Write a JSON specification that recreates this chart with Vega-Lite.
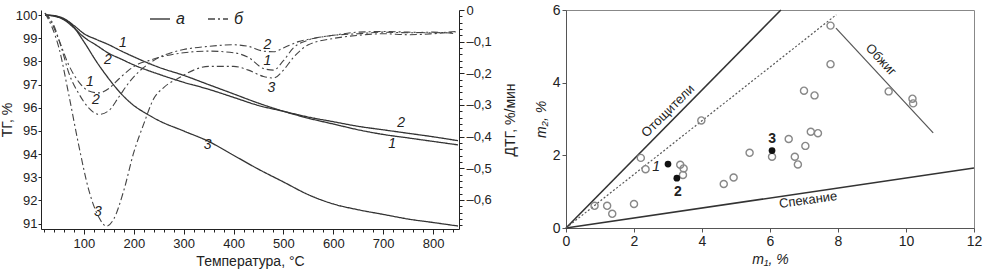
{
  "$schema": "https://vega.github.io/schema/vega-lite/v6.json",
  "padding": {"left": 0, "top": 2, "right": 5, "bottom": 5},
  "config": {
    "font": "Liberation Sans",
    "view": {"stroke": "#888"},
    "axis": {"labelFontSize": 13, "titleFontSize": 14, "titleFontWeight": "normal", "labelColor": "#222", "titleColor": "#222", "domainColor": "#222", "tickColor": "#222", "grid": false, "labelFont": "Liberation Sans", "titleFont": "Liberation Sans", "labelOverlap": false, "labelFlush": false},
    "text": {"font": "Liberation Sans"}
  },
  "datasets": {
    "tg": [
      {"c":"1","k":"а","T":22,"v":100},{"c":"1","k":"а","T":40,"v":99.98},{"c":"1","k":"а","T":60,"v":99.85},{"c":"1","k":"а","T":80,"v":99.55},{"c":"1","k":"а","T":100,"v":99.2},{"c":"1","k":"а","T":125,"v":98.95},{"c":"1","k":"а","T":150,"v":98.72},{"c":"1","k":"а","T":175,"v":98.45},{"c":"1","k":"а","T":200,"v":98.2},{"c":"1","k":"а","T":250,"v":97.75},{"c":"1","k":"а","T":300,"v":97.4},{"c":"1","k":"а","T":350,"v":97.0},{"c":"1","k":"а","T":400,"v":96.6},{"c":"1","k":"а","T":450,"v":96.2},{"c":"1","k":"а","T":500,"v":95.85},{"c":"1","k":"а","T":550,"v":95.55},{"c":"1","k":"а","T":600,"v":95.3},{"c":"1","k":"а","T":650,"v":95.05},{"c":"1","k":"а","T":700,"v":94.85},{"c":"1","k":"а","T":750,"v":94.7},{"c":"1","k":"а","T":800,"v":94.55},{"c":"1","k":"а","T":850,"v":94.4},
      {"c":"2","k":"а","T":22,"v":100},{"c":"2","k":"а","T":40,"v":99.97},{"c":"2","k":"а","T":60,"v":99.8},{"c":"2","k":"а","T":80,"v":99.45},{"c":"2","k":"а","T":100,"v":99.05},{"c":"2","k":"а","T":125,"v":98.7},{"c":"2","k":"а","T":150,"v":98.35},{"c":"2","k":"а","T":175,"v":98.1},{"c":"2","k":"а","T":200,"v":97.85},{"c":"2","k":"а","T":250,"v":97.45},{"c":"2","k":"а","T":300,"v":97.1},{"c":"2","k":"а","T":350,"v":96.8},{"c":"2","k":"а","T":400,"v":96.45},{"c":"2","k":"а","T":450,"v":96.1},{"c":"2","k":"а","T":500,"v":95.85},{"c":"2","k":"а","T":550,"v":95.6},{"c":"2","k":"а","T":600,"v":95.4},{"c":"2","k":"а","T":650,"v":95.2},{"c":"2","k":"а","T":700,"v":95.05},{"c":"2","k":"а","T":750,"v":94.9},{"c":"2","k":"а","T":800,"v":94.75},{"c":"2","k":"а","T":850,"v":94.58},
      {"c":"3","k":"а","T":22,"v":100},{"c":"3","k":"а","T":50,"v":99.9},{"c":"3","k":"а","T":75,"v":99.6},{"c":"3","k":"а","T":100,"v":98.85},{"c":"3","k":"а","T":125,"v":98.0},{"c":"3","k":"а","T":150,"v":97.25},{"c":"3","k":"а","T":175,"v":96.6},{"c":"3","k":"а","T":200,"v":96.1},{"c":"3","k":"а","T":225,"v":95.75},{"c":"3","k":"а","T":250,"v":95.45},{"c":"3","k":"а","T":300,"v":95.0},{"c":"3","k":"а","T":350,"v":94.55},{"c":"3","k":"а","T":400,"v":93.95},{"c":"3","k":"а","T":450,"v":93.35},{"c":"3","k":"а","T":500,"v":92.8},{"c":"3","k":"а","T":550,"v":92.25},{"c":"3","k":"а","T":600,"v":91.85},{"c":"3","k":"а","T":650,"v":91.6},{"c":"3","k":"а","T":700,"v":91.4},{"c":"3","k":"а","T":750,"v":91.2},{"c":"3","k":"а","T":800,"v":91.05},{"c":"3","k":"а","T":850,"v":90.9}
    ],
    "dtg": [
      {"c":"1","k":"б","T":22,"v":-0.01},{"c":"1","k":"б","T":35,"v":-0.04},{"c":"1","k":"б","T":50,"v":-0.095},{"c":"1","k":"б","T":70,"v":-0.175},{"c":"1","k":"б","T":90,"v":-0.228},{"c":"1","k":"б","T":110,"v":-0.256},{"c":"1","k":"б","T":130,"v":-0.262},{"c":"1","k":"б","T":150,"v":-0.248},{"c":"1","k":"б","T":170,"v":-0.218},{"c":"1","k":"б","T":190,"v":-0.19},{"c":"1","k":"б","T":210,"v":-0.17},{"c":"1","k":"б","T":230,"v":-0.16},{"c":"1","k":"б","T":250,"v":-0.15},{"c":"1","k":"б","T":300,"v":-0.135},{"c":"1","k":"б","T":350,"v":-0.13},{"c":"1","k":"б","T":400,"v":-0.135},{"c":"1","k":"б","T":430,"v":-0.15},{"c":"1","k":"б","T":460,"v":-0.185},{"c":"1","k":"б","T":480,"v":-0.19},{"c":"1","k":"б","T":500,"v":-0.16},{"c":"1","k":"б","T":520,"v":-0.12},{"c":"1","k":"б","T":550,"v":-0.095},{"c":"1","k":"б","T":600,"v":-0.08},{"c":"1","k":"б","T":650,"v":-0.07},{"c":"1","k":"б","T":700,"v":-0.068},{"c":"1","k":"б","T":750,"v":-0.07},{"c":"1","k":"б","T":800,"v":-0.072},{"c":"1","k":"б","T":845,"v":-0.068},
      {"c":"2","k":"б","T":22,"v":-0.01},{"c":"2","k":"б","T":40,"v":-0.05},{"c":"2","k":"б","T":55,"v":-0.12},{"c":"2","k":"б","T":70,"v":-0.2},{"c":"2","k":"б","T":90,"v":-0.265},{"c":"2","k":"б","T":110,"v":-0.31},{"c":"2","k":"б","T":130,"v":-0.33},{"c":"2","k":"б","T":150,"v":-0.318},{"c":"2","k":"б","T":170,"v":-0.275},{"c":"2","k":"б","T":190,"v":-0.23},{"c":"2","k":"б","T":210,"v":-0.195},{"c":"2","k":"б","T":230,"v":-0.17},{"c":"2","k":"б","T":250,"v":-0.15},{"c":"2","k":"б","T":275,"v":-0.135},{"c":"2","k":"б","T":300,"v":-0.125},{"c":"2","k":"б","T":350,"v":-0.115},{"c":"2","k":"б","T":400,"v":-0.11},{"c":"2","k":"б","T":430,"v":-0.115},{"c":"2","k":"б","T":460,"v":-0.13},{"c":"2","k":"б","T":480,"v":-0.132},{"c":"2","k":"б","T":500,"v":-0.12},{"c":"2","k":"б","T":530,"v":-0.1},{"c":"2","k":"б","T":560,"v":-0.09},{"c":"2","k":"б","T":600,"v":-0.08},{"c":"2","k":"б","T":650,"v":-0.075},{"c":"2","k":"б","T":700,"v":-0.07},{"c":"2","k":"б","T":750,"v":-0.072},{"c":"2","k":"б","T":800,"v":-0.07},{"c":"2","k":"б","T":845,"v":-0.075},
      {"c":"3","k":"б","T":22,"v":-0.01},{"c":"3","k":"б","T":35,"v":-0.05},{"c":"3","k":"б","T":50,"v":-0.12},{"c":"3","k":"б","T":70,"v":-0.27},{"c":"3","k":"б","T":90,"v":-0.43},{"c":"3","k":"б","T":110,"v":-0.57},{"c":"3","k":"б","T":130,"v":-0.655},{"c":"3","k":"б","T":145,"v":-0.683},{"c":"3","k":"б","T":160,"v":-0.66},{"c":"3","k":"б","T":180,"v":-0.57},{"c":"3","k":"б","T":200,"v":-0.45},{"c":"3","k":"б","T":220,"v":-0.36},{"c":"3","k":"б","T":240,"v":-0.28},{"c":"3","k":"б","T":260,"v":-0.245},{"c":"3","k":"б","T":290,"v":-0.215},{"c":"3","k":"б","T":320,"v":-0.19},{"c":"3","k":"б","T":350,"v":-0.178},{"c":"3","k":"б","T":400,"v":-0.178},{"c":"3","k":"б","T":430,"v":-0.19},{"c":"3","k":"б","T":460,"v":-0.21},{"c":"3","k":"б","T":480,"v":-0.215},{"c":"3","k":"б","T":500,"v":-0.19},{"c":"3","k":"б","T":520,"v":-0.15},{"c":"3","k":"б","T":550,"v":-0.11},{"c":"3","k":"б","T":600,"v":-0.09},{"c":"3","k":"б","T":650,"v":-0.08},{"c":"3","k":"б","T":700,"v":-0.075},{"c":"3","k":"б","T":750,"v":-0.078},{"c":"3","k":"б","T":800,"v":-0.075},{"c":"3","k":"б","T":845,"v":-0.07}
    ],
    "tgLab": [
      {"t":"1","T":178,"v":98.79},{"t":"2","T":148,"v":98.06},{"t":"3","T":348,"v":94.4},{"t":"2","T":736,"v":95.34},{"t":"1","T":718,"v":94.44}
    ],
    "dtgLab": [
      {"t":"1","T":112,"v":-0.227},{"t":"2","T":124,"v":-0.284},{"t":"3","T":128,"v":-0.638},{"t":"2","T":468,"v":-0.11},{"t":"1","T":468,"v":-0.16},{"t":"3","T":476,"v":-0.246}
    ],
    "pts": [
      {"x":0.84,"y":0.61},{"x":1.21,"y":0.61},{"x":1.36,"y":0.39},{"x":2.0,"y":0.66},{"x":2.2,"y":1.93},{"x":2.34,"y":1.62},{"x":3.36,"y":1.74},{"x":3.46,"y":1.64},{"x":3.44,"y":1.46},{"x":3.98,"y":2.96},{"x":4.64,"y":1.21},{"x":4.93,"y":1.39},{"x":5.4,"y":2.07},{"x":7.78,"y":5.57},{"x":7.78,"y":4.51},{"x":7.0,"y":3.78},{"x":7.31,"y":3.65},{"x":9.49,"y":3.76},{"x":10.19,"y":3.56},{"x":10.21,"y":3.43},{"x":6.55,"y":2.45},{"x":7.2,"y":2.65},{"x":7.41,"y":2.61},{"x":7.04,"y":2.26},{"x":6.06,"y":1.96},{"x":6.73,"y":1.96},{"x":6.82,"y":1.75}
    ],
    "samples": [
      {"n":"1","x":3.0,"y":1.76},{"n":"2","x":3.26,"y":1.37},{"n":"3","x":6.06,"y":2.13}
    ],
    "sampleLab1": [
      {"n":"1","x":2.65,"y":1.68}
    ],
    "sampleLab23": [
      {"n":"2","x":3.29,"y":0.99},{"n":"3","x":6.06,"y":2.45}
    ],
    "bounds": [
      {"n":"Отощители","x":0,"y":0},{"n":"Отощители","x":6.32,"y":6},
      {"n":"Спекание","x":0,"y":0},{"n":"Спекание","x":12,"y":1.65}
    ],
    "firing": [
      {"n":"Обжиг","x":7.94,"y":5.5},{"n":"Обжиг","x":10.8,"y":2.62}
    ],
    "diag": [
      {"n":"d","x":0,"y":0},{"n":"d","x":7.95,"y":5.87}
    ]
  },
  "hconcat": [
    {
      "width": 418,
      "height": 219,
      "view": {"stroke": null},
      "encoding": {
        "x": {"field": "T", "type": "quantitative", "scale": {"domain": [14, 852], "nice": false, "zero": false},
          "axis": {"title": "Температура, °С", "values": [20,40,60,80,100,120,140,160,180,200,220,240,260,280,300,320,340,360,380,400,420,440,460,480,500,520,540,560,580,600,620,640,660,680,700,720,740,760,780,800,820,840],
            "labelExpr": "datum.value % 100 === 0 ? datum.label : ''", "labelOverlap": false, "labelFlush": false,
            "tickSize": {"condition": {"test": "datum.value % 100 === 0", "value": 5}, "value": 3}, "labelPadding": 3, "titlePadding": 4}}
      },
      "layer": [
        {
          "data": {"name": "tg"},
          "mark": {"type": "line", "interpolate": "monotone", "strokeWidth": 1.3, "color": "#333"},
          "encoding": {
            "y": {"field": "v", "type": "quantitative", "scale": {"domain": [90.77, 100.22], "nice": false, "zero": false},
              "axis": {"orient": "left", "title": "ТГ, %", "values": [91,92,93,94,95,96,97,98,99,100], "labelOverlap": false, "tickSize": 3, "labelPadding": 1, "titlePadding": 1}},
            "detail": {"field": "c"},
            "strokeDash": {"field": "k", "type": "nominal", "scale": {"domain": ["а", "б"], "range": [[1, 0], [7, 3, 2, 3]]},
              "legend": {"orient": "none", "legendX": 108, "legendY": -2, "direction": "horizontal", "title": null, "symbolType": "stroke", "symbolSize": 400, "symbolStrokeWidth": 1.3, "symbolStrokeColor": "#222", "labelFontSize": 16, "labelFontStyle": "italic", "labelColor": "#222", "columnPadding": 20, "labelOffset": 5}}
          }
        },
        {
          "data": {"name": "tgLab"},
          "mark": {"type": "text", "fontSize": 14, "fontStyle": "italic", "color": "#222"},
          "encoding": {
            "y": {"field": "v", "type": "quantitative", "scale": {"domain": [90.77, 100.22], "nice": false, "zero": false}, "axis": null},
            "text": {"field": "t"}
          }
        },
        {
          "data": {"name": "dtg"},
          "mark": {"type": "line", "interpolate": "monotone", "strokeWidth": 1.1, "color": "#444"},
          "encoding": {
            "y": {"field": "v", "type": "quantitative", "scale": {"domain": [-0.692, 0], "nice": false, "zero": false},
              "axis": {"orient": "right", "title": "ДТГ, %/мин", "titleAngle": 270, "titleBaseline": "top", "titlePadding": 12,
                "values": [0,-0.02,-0.04,-0.06,-0.08,-0.1,-0.12,-0.14,-0.16,-0.18,-0.2,-0.22,-0.24,-0.26,-0.28,-0.3,-0.32,-0.34,-0.36,-0.38,-0.4,-0.42,-0.44,-0.46,-0.48,-0.5,-0.52,-0.54,-0.56,-0.58,-0.6,-0.62,-0.64,-0.66,-0.68],
                "labelExpr": "abs(round(datum.value*100)) % 10 === 0 ? (abs(datum.value) < 0.001 ? '0' : '–' + replace(format(-datum.value, '.1f'), '.', ',')) : ''",
                "labelOverlap": false, "labelFlush": false,
                "tickSize": {"condition": {"test": "abs(round(datum.value*100)) % 10 === 0", "value": 5}, "value": 3}}},
            "detail": {"field": "c"},
            "strokeDash": {"field": "k", "type": "nominal"}
          }
        },
        {
          "data": {"name": "dtgLab"},
          "mark": {"type": "text", "fontSize": 14, "fontStyle": "italic", "color": "#222"},
          "encoding": {
            "y": {"field": "v", "type": "quantitative", "scale": {"domain": [-0.692, 0], "nice": false, "zero": false}, "axis": null},
            "text": {"field": "t"}
          }
        }
      ],
      "resolve": {"scale": {"y": "independent"}, "axis": {"y": "independent"}}
    },
    {
      "width": 408,
      "height": 218,
      "layer": [
        {
          "data": {"name": "bounds"},
          "mark": {"type": "line", "color": "#333", "strokeWidth": 1.6},
          "encoding": {
            "x": {"field": "x", "type": "quantitative", "scale": {"domain": [0, 12], "nice": false},
              "axis": {"title": "m₁, %", "titleFontStyle": "italic", "values": [0,2,4,6,8,10,12], "labelFontSize": 14, "tickSize": 4, "domainColor": "#555", "tickColor": "#555", "labelFlush": false, "labelOverlap": false, "titlePadding": 4}},
            "y": {"field": "y", "type": "quantitative", "scale": {"domain": [0, 6], "nice": false},
              "axis": {"title": "m₂, %", "titleFontStyle": "italic", "values": [0,1,2,3,4,5,6], "labelFontSize": 14, "tickSize": 4, "domainColor": "#555", "tickColor": "#555", "labelFlush": false, "labelOverlap": false, "titlePadding": 4}},
            "detail": {"field": "n"}
          }
        },
        {
          "data": {"name": "firing"},
          "mark": {"type": "line", "color": "#555", "strokeWidth": 1.2},
          "encoding": {
            "x": {"field": "x", "type": "quantitative"},
            "y": {"field": "y", "type": "quantitative"}
          }
        },
        {
          "data": {"name": "diag"},
          "mark": {"type": "line", "color": "#555", "strokeWidth": 1.2, "strokeDash": [2, 2]},
          "encoding": {
            "x": {"field": "x", "type": "quantitative"},
            "y": {"field": "y", "type": "quantitative"}
          }
        },
        {
          "data": {"name": "pts"},
          "mark": {"type": "point", "shape": "circle", "filled": false, "stroke": "#888", "strokeWidth": 1.4, "size": 50, "opacity": 1},
          "encoding": {
            "x": {"field": "x", "type": "quantitative"},
            "y": {"field": "y", "type": "quantitative"}
          }
        },
        {
          "data": {"name": "samples"},
          "mark": {"type": "point", "shape": "circle", "filled": true, "color": "#111", "size": 45, "opacity": 1},
          "encoding": {
            "x": {"field": "x", "type": "quantitative"},
            "y": {"field": "y", "type": "quantitative"}
          }
        },
        {
          "data": {"name": "sampleLab1"},
          "mark": {"type": "text", "fontSize": 14, "fontStyle": "italic", "color": "#222"},
          "encoding": {
            "x": {"field": "x", "type": "quantitative"},
            "y": {"field": "y", "type": "quantitative"},
            "text": {"field": "n"}
          }
        },
        {
          "data": {"name": "sampleLab23"},
          "mark": {"type": "text", "fontSize": 14, "fontWeight": "bold", "color": "#222"},
          "encoding": {
            "x": {"field": "x", "type": "quantitative"},
            "y": {"field": "y", "type": "quantitative"},
            "text": {"field": "n"}
          }
        },
        {
          "data": {"values": [{"t": "Отощители", "x": 3.0, "y": 3.22}]},
          "mark": {"type": "text", "fontSize": 13, "angle": 315, "color": "#222"},
          "encoding": {
            "x": {"field": "x", "type": "quantitative"},
            "y": {"field": "y", "type": "quantitative"},
            "text": {"field": "t"}
          }
        },
        {
          "data": {"values": [{"t": "Обжиг", "x": 9.26, "y": 4.63}]},
          "mark": {"type": "text", "fontSize": 13, "angle": 47, "color": "#222"},
          "encoding": {
            "x": {"field": "x", "type": "quantitative"},
            "y": {"field": "y", "type": "quantitative"},
            "text": {"field": "t"}
          }
        },
        {
          "data": {"values": [{"t": "Спекание", "x": 7.12, "y": 0.77}]},
          "mark": {"type": "text", "fontSize": 13, "angle": 352, "color": "#222"},
          "encoding": {
            "x": {"field": "x", "type": "quantitative"},
            "y": {"field": "y", "type": "quantitative"},
            "text": {"field": "t"}
          }
        }
      ]
    }
  ],
  "spacing": 15,
  "resolve": {"scale": {"strokeDash": "independent"}, "legend": {"strokeDash": "independent"}}
}
